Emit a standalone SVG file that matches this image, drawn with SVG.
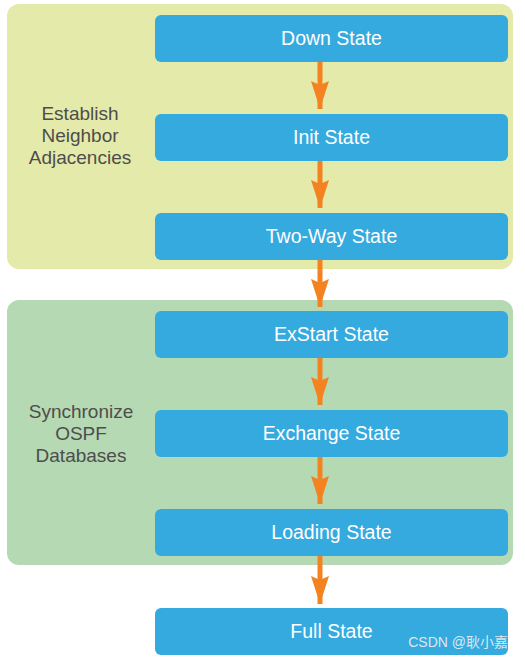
<svg xmlns="http://www.w3.org/2000/svg" width="525" height="659" viewBox="0 0 525 659">
<style>
.panel1{fill:#E4EAA9}
.panel2{fill:#B5D9B3}
.node rect{fill:#35AADF}
.node text{fill:#fff;font-family:"Liberation Sans",Arial,sans-serif;font-size:19.5px;text-anchor:middle}
.lbl{fill:#4d4d4d;font-family:"Liberation Sans",Arial,sans-serif;font-size:19px;text-anchor:middle}
.conn line{stroke:#F58220;stroke-width:5}
</style>
<defs>
<marker id="ah" markerUnits="userSpaceOnUse" markerWidth="30" markerHeight="20" refX="28" refY="10" orient="auto">
<path d="M0,1 L28,10 L0,19 L4,10 Z" fill="#F58220"/>
</marker>
</defs>
<rect width="525" height="659" fill="#fff"/>
<g id="panel-establish">
<rect class="panel1" x="7" y="4" width="506" height="265" rx="12"/>
<text class="lbl" x="80" y="120">Establish</text>
<text class="lbl" x="80" y="142">Neighbor</text>
<text class="lbl" x="80" y="164">Adjacencies</text>
</g>
<g id="panel-sync">
<rect class="panel2" x="7" y="300" width="506" height="265" rx="12"/>
<text class="lbl" x="81" y="418">Synchronize</text>
<text class="lbl" x="81" y="440">OSPF</text>
<text class="lbl" x="81" y="462">Databases</text>
</g>
<g class="conn" id="connectors">
<line x1="320" y1="62" x2="320" y2="109" marker-end="url(#ah)"/>
<line x1="320" y1="161" x2="320" y2="208" marker-end="url(#ah)"/>
<line x1="320" y1="260" x2="320" y2="307" marker-end="url(#ah)"/>
<line x1="320" y1="358" x2="320" y2="405" marker-end="url(#ah)"/>
<line x1="320" y1="457" x2="320" y2="504" marker-end="url(#ah)"/>
<line x1="320" y1="556" x2="320" y2="604" marker-end="url(#ah)"/>
</g>
<g class="node" id="down"><rect x="155" y="15" width="353" height="47" rx="6"/><text x="331.5" y="45">Down State</text></g>
<g class="node" id="init"><rect x="155" y="114" width="353" height="47" rx="6"/><text x="331.5" y="144">Init State</text></g>
<g class="node" id="twoway"><rect x="155" y="213" width="353" height="47" rx="6"/><text x="331.5" y="243">Two-Way State</text></g>
<g class="node" id="exstart"><rect x="155" y="311" width="353" height="47" rx="6"/><text x="331.5" y="341">ExStart State</text></g>
<g class="node" id="exchange"><rect x="155" y="410" width="353" height="47" rx="6"/><text x="331.5" y="440">Exchange State</text></g>
<g class="node" id="loading"><rect x="155" y="509" width="353" height="47" rx="6"/><text x="331.5" y="539">Loading State</text></g>
<g class="node" id="full"><rect x="155" y="608" width="353" height="47" rx="6"/><text x="331.5" y="638">Full State</text></g>
<text x="508" y="647" fill="#dfe7ee" font-family="'Liberation Sans','Noto Sans CJK SC',sans-serif" font-size="14" text-anchor="end">CSDN @耿小嘉</text>
</svg>
